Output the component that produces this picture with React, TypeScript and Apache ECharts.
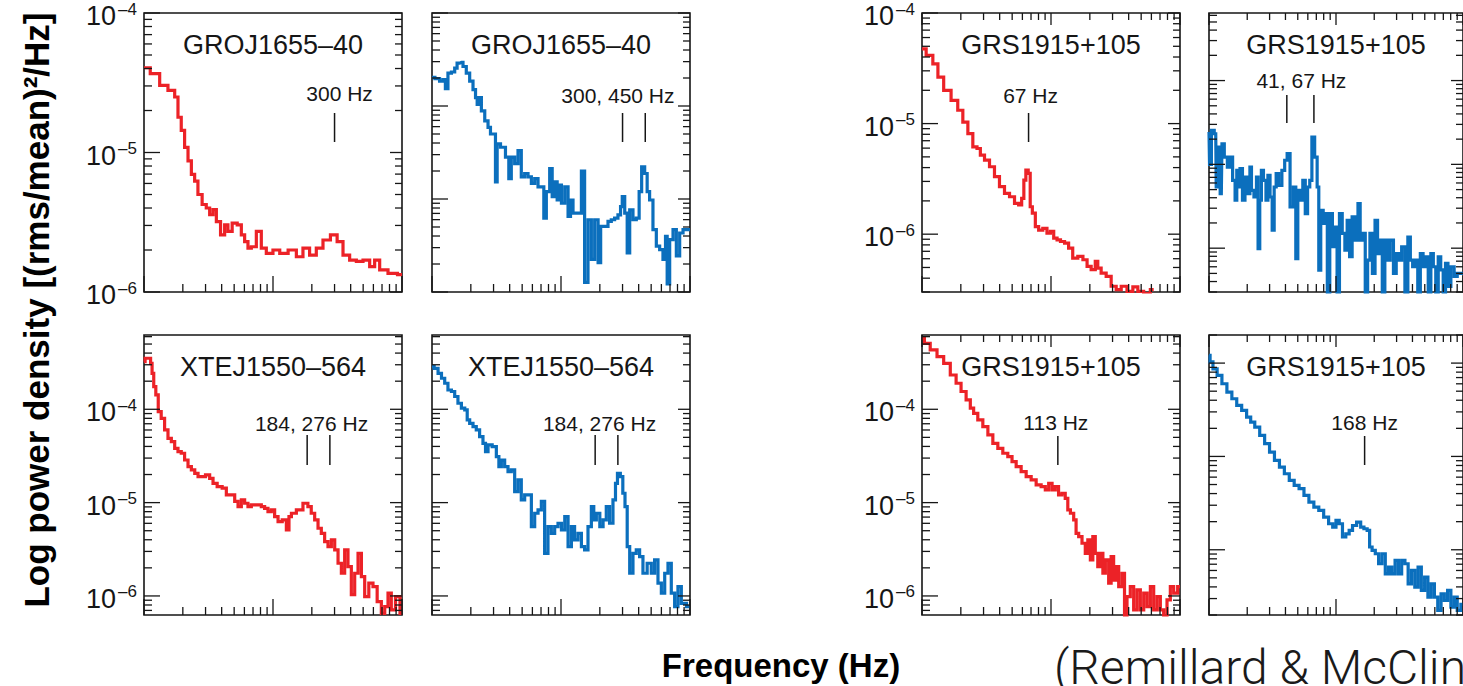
import React, { useEffect, useRef } from "react";
import * as echarts from "echarts";

// ---------------------------------------------------------------------------
// Power density spectra: frequency (Hz) and power ((rms/mean)^2/Hz)
// ---------------------------------------------------------------------------

// GRO J1655-40, observation showing the 300 Hz QPO
const groA_freq = [10, 12.5, 14.0, 16.8, 17.8, 18.9, 20.0, 21.3, 22.6, 24.0, 25.4, 27.0, 29.5, 31.3, 33.3, 35.3, 37.5, 41.0, 43.4, 46.1, 50.5, 55.2, 58.5, 62.1, 65.9, 70.0, 78.8, 83.6, 94.2, 106, 120, 143, 161, 181, 204, 230, 259, 300, 329, 370, 417, 470, 529, 596, 632, 713, 851, 1000];
const groA_power = [4.05e-5, 3.68e-5, 3.03e-5, 2.79e-5, 2.5e-5, 1.79e-5, 1.44e-5, 1.09e-5, 8.7e-6, 6.97e-6, 6.24e-6, 5.0e-6, 4.24e-6, 4.0e-6, 3.58e-6, 3.89e-6, 3.2e-6, 2.57e-6, 3.03e-6, 2.72e-6, 3.12e-6, 3.03e-6, 2.57e-6, 2.3e-6, 2.06e-6, 2.11e-6, 2.72e-6, 2.06e-6, 1.89e-6, 2.0e-6, 1.89e-6, 2.0e-6, 1.79e-6, 2.06e-6, 1.84e-6, 2.06e-6, 2.36e-6, 2.57e-6, 2.3e-6, 1.84e-6, 1.69e-6, 1.66e-6, 1.69e-6, 1.52e-6, 1.69e-6, 1.44e-6, 1.36e-6, 1.33e-6];

// GRO J1655-40, observation showing the 300 and 450 Hz QPOs
const groB_freq = [10, 11.1, 11.8, 12.5, 12.9, 13.7, 14.6, 15.4, 15.9, 16.9, 17.9, 19.0, 20.2, 21.4, 22.1, 22.7, 23.4, 24.9, 26.4, 28.0, 28.8, 30.6, 31.5, 32.5, 35.5, 38.8, 40.0, 42.4, 45.1, 47.8, 50.7, 53.9, 57.2, 60.7, 64.4, 68.4, 72.5, 74.7, 79.3, 84.2, 86.7, 92.0, 94.8, 97.7, 104, 110, 117, 120, 128, 140, 148, 157, 167, 177, 188, 200, 206, 225, 238, 253, 268, 285, 294, 303, 321, 331, 351, 372, 395, 412, 432, 459, 472, 501, 532, 565, 599, 636, 656, 675, 717, 761, 807, 857, 910, 1000];
const groB_power = [2.03e-5, 1.97e-5, 1.85e-5, 1.92e-5, 1.54e-5, 2.26e-5, 2.32e-5, 2.56e-5, 2.89e-5, 2.94e-5, 2.66e-5, 2.26e-5, 1.85e-5, 1.5e-5, 1.23e-5, 1.04e-5, 1.23e-5, 8.85e-6, 6.92e-6, 5.88e-6, 5.0e-6, 5.0e-6, 1.53e-6, 3.91e-6, 3.6e-6, 2.82e-6, 1.66e-6, 2.82e-6, 2.4e-6, 3.32e-6, 1.73e-6, 1.88e-6, 1.73e-6, 1.47e-6, 1.66e-6, 1.35e-6, 1.35e-6, 6.22e-7, 1.2e-6, 2.12e-6, 1.06e-6, 1.53e-6, 9.76e-7, 1.41e-6, 9.0e-7, 1.35e-6, 6.49e-7, 9.76e-7, 7.05e-7, 7.05e-7, 2.0e-6, 1.27e-7, 5.98e-7, 2.24e-7, 5.98e-7, 2.07e-7, 5.08e-7, 5.08e-7, 5.74e-7, 5.98e-7, 6.22e-7, 6.76e-7, 8.28e-7, 1.06e-6, 7.05e-7, 2.64e-7, 7.64e-7, 5.98e-7, 6.22e-7, 1.2e-6, 2.21e-6, 1.88e-6, 1.2e-6, 9.76e-7, 4.68e-7, 3.11e-7, 2.86e-7, 2.24e-7, 3.97e-7, 1.22e-7, 3.66e-7, 4.68e-7, 2.44e-7, 4.31e-7, 4.68e-7, 4.68e-7];

// GRS 1915+105, 67 Hz QPO
const grsA_freq = [10, 11.6, 12.7, 13.9, 15.6, 18.1, 19.8, 21.7, 23.7, 25.9, 27.5, 29.2, 31.9, 34.9, 38.1, 41.7, 45.6, 49.9, 54.5, 57.8, 60.7, 62.5, 65.2, 68.0, 70.0, 73.4, 77.9, 82.6, 90.3, 95.9, 102, 108, 115, 122, 133, 141, 154, 169, 185, 196, 214, 227, 234, 256, 280, 306, 335, 366, 412, 451, 492, 555, 625];
const grsA_power = [4.74e-5, 4.13e-5, 3.47e-5, 2.63e-5, 2.0e-5, 1.62e-5, 1.32e-5, 1.03e-5, 8.13e-6, 6.16e-6, 5.95e-6, 5.19e-6, 4.67e-6, 4.07e-6, 3.31e-6, 2.69e-6, 2.34e-6, 2.18e-6, 1.9e-6, 1.84e-6, 2.11e-6, 3.08e-6, 3.8e-6, 3.55e-6, 1.77e-6, 1.55e-6, 1.17e-6, 1.09e-6, 1.13e-6, 1.02e-6, 1.06e-6, 9.2e-7, 8.89e-7, 8.59e-7, 8.3e-7, 7.48e-7, 6.08e-7, 6.3e-7, 5.87e-7, 5.12e-7, 4.78e-7, 5.67e-7, 4.94e-7, 4.45e-7, 4.16e-7, 3.38e-7, 3.15e-7, 3.38e-7, 3.04e-7, 3.34e-7, 3.04e-7, 2.9e-7, 3.15e-7];

// GRS 1915+105, 41 and 67 Hz QPOs
const grsB_freq = [10, 10.2, 10.7, 11.3, 11.5, 12.0, 12.5, 12.8, 13.6, 14.3, 14.9, 15.8, 16.3, 16.8, 17.3, 17.8, 18.9, 19.5, 20.7, 21.3, 21.9, 23.3, 24.0, 24.7, 25.5, 26.2, 27.5, 28.7, 29.5, 31.0, 31.9, 33.3, 34.3, 36.4, 38.6, 40.3, 42.2, 44.8, 47.5, 49.0, 51.1, 53.5, 56.1, 58.5, 61.0, 63.3, 65.9, 70.0, 72.1, 74.3, 77.4, 81.2, 83.7, 87.2, 91.5, 95.9, 100, 104, 109, 115, 120, 125, 131, 137, 146, 152, 158, 166, 174, 181, 189, 198, 208, 217, 226, 237, 248, 259, 275, 292, 304, 319, 339, 359, 377, 393, 410, 430, 451, 472, 498, 520, 545, 572, 596, 625, 652, 684, 713, 744, 779, 827, 877, 925, 1000];
const grsB_power = [2.43e-6, 1.0e-6, 2.54e-6, 2.32e-6, 5.37e-7, 1.61e-6, 4.48e-7, 1.76e-6, 1.22e-6, 9.29e-7, 1.22e-6, 6.45e-7, 3.73e-7, 8.49e-7, 5.37e-7, 8.88e-7, 3.73e-7, 7.07e-7, 4.48e-7, 9.29e-7, 4.9e-7, 4.08e-7, 7.07e-7, 9.9e-8, 3.73e-7, 8.49e-7, 6.45e-7, 3.73e-7, 7.4e-7, 4.08e-7, 1.64e-7, 5.37e-7, 7.74e-7, 5.62e-7, 8.49e-7, 1.12e-6, 1.34e-6, 3.1e-7, 5.37e-7, 7.5e-8, 4.9e-7, 3.73e-7, 6.45e-7, 2.59e-7, 5.37e-7, 6.45e-7, 2.11e-6, 1.22e-6, 5.37e-7, 5.47e-8, 2.83e-7, 1.97e-7, 2.59e-7, 2.5e-8, 2.59e-7, 1.04e-7, 1.79e-7, 2.5e-8, 2.59e-7, 1.5e-7, 9.47e-8, 2.15e-7, 7.9e-8, 2.36e-7, 1.25e-7, 3.4e-7, 1.25e-7, 1.5e-7, 2.5e-8, 7.2e-8, 1.5e-7, 5.0e-8, 2.15e-7, 8.6e-8, 1.25e-7, 2.5e-8, 1.25e-7, 7.2e-8, 1.25e-7, 5.0e-8, 8.6e-8, 7.2e-8, 1.04e-7, 2.5e-8, 1.36e-7, 7.2e-8, 6.0e-8, 7.2e-8, 2.5e-8, 8.6e-8, 6.0e-8, 7.9e-8, 2.5e-8, 8.6e-8, 6.0e-8, 2.5e-8, 7.9e-8, 5.5e-8, 2.5e-8, 6.6e-8, 3.5e-8, 6.0e-8, 4.6e-8, 5.0e-8, 5.0e-8];

// XTE J1550-564, 184 and 276 Hz QPOs (red)
const xteA_freq = [10, 10.4, 11.1, 11.4, 11.7, 12.1, 12.6, 13.2, 14.0, 14.9, 15.8, 16.8, 17.8, 18.9, 20.0, 21.3, 22.6, 24.0, 25.5, 27.0, 28.7, 31.3, 33.3, 35.3, 38.6, 42.2, 44.8, 49.0, 52.0, 55.2, 58.5, 62.1, 65.9, 70.0, 78.8, 83.6, 88.7, 94.2, 100, 106, 113, 123, 131, 135, 143, 161, 181, 192, 204, 217, 230, 244, 259, 275, 292, 310, 329, 349, 370, 393, 417, 443, 470, 499, 529, 578, 614, 671, 713, 757, 802, 851, 931, 1000];
const xteA_power = [3.24e-4, 3.52e-4, 3.52e-4, 3.11e-4, 2.43e-4, 1.75e-4, 1.43e-4, 9.44e-5, 8.01e-5, 6.01e-5, 4.89e-5, 4.51e-5, 3.82e-5, 3.52e-5, 3.38e-5, 2.86e-5, 2.43e-5, 2.24e-5, 2.06e-5, 1.9e-5, 1.9e-5, 1.98e-5, 1.82e-5, 1.61e-5, 1.48e-5, 1.43e-5, 1.21e-5, 1.21e-5, 1.03e-5, 9.06e-6, 1.07e-5, 9.84e-6, 9.06e-6, 9.44e-6, 9.44e-6, 9.06e-6, 8.69e-6, 8.01e-6, 8.34e-6, 7.08e-6, 6.25e-6, 6.52e-6, 5.09e-6, 7.08e-6, 7.69e-6, 8.34e-6, 9.84e-6, 9.06e-6, 7.69e-6, 6.52e-6, 5.31e-6, 4.69e-6, 3.82e-6, 3.38e-6, 3.98e-6, 3.11e-6, 2.24e-6, 1.75e-6, 3.11e-6, 2.06e-6, 1.03e-6, 1.75e-6, 2.86e-6, 1.61e-6, 9.84e-7, 1.37e-6, 1.26e-6, 8.69e-7, 6.52e-7, 7.69e-7, 1.07e-6, 7.08e-7, 9.84e-7, 6.52e-7];

// XTE J1550-564, 184 and 276 Hz QPOs (blue)
const xteB_freq = [10, 10.8, 11.5, 12.2, 12.9, 13.7, 14.6, 15.4, 16.4, 17.4, 18.5, 19.0, 20.2, 21.4, 22.7, 24.1, 25.6, 26.4, 28.0, 30.6, 32.5, 33.5, 35.5, 37.7, 40.0, 42.4, 45.1, 47.8, 50.7, 53.9, 57.2, 60.7, 64.4, 68.4, 72.5, 76.9, 81.7, 86.7, 92.0, 97.7, 104, 110, 117, 124, 131, 140, 148, 157, 167, 177, 182, 194, 206, 218, 231, 245, 261, 268, 280, 297, 306, 321, 331, 351, 372, 395, 419, 445, 487, 516, 548, 582, 618, 656, 695, 738, 783, 831, 883, 1000];
const xteB_power = [2.86e-4, 2.75e-4, 2.43e-4, 2.15e-4, 1.9e-4, 1.61e-4, 1.55e-4, 1.37e-4, 1.16e-4, 1.03e-4, 9.84e-5, 7.69e-5, 7.08e-5, 6.52e-5, 6.01e-5, 5.09e-5, 4.32e-5, 3.52e-5, 4.15e-5, 3.98e-5, 3.11e-5, 2.43e-5, 2.86e-5, 2.43e-5, 2.15e-5, 2.24e-5, 1.31e-5, 1.75e-5, 1.07e-5, 1.21e-5, 1.21e-5, 5.53e-6, 7.69e-6, 8.34e-6, 1.03e-5, 2.86e-6, 5.53e-6, 4.69e-6, 5.53e-6, 6.01e-6, 5.09e-6, 7.08e-6, 3.38e-6, 5.53e-6, 3.98e-6, 4.69e-6, 3.38e-6, 3.11e-6, 5.53e-6, 9.06e-6, 6.52e-6, 7.69e-6, 5.53e-6, 6.52e-6, 9.06e-6, 6.01e-6, 1.07e-5, 1.61e-5, 2.06e-5, 1.9e-5, 1.26e-5, 9.06e-6, 3.38e-6, 1.75e-6, 2.86e-6, 3.11e-6, 2.64e-6, 1.75e-6, 2.24e-6, 1.75e-6, 2.43e-6, 1.37e-6, 1.07e-6, 1.75e-6, 2.24e-6, 1.07e-6, 7.69e-7, 1.26e-6, 8.34e-7, 7.69e-7];

// GRS 1915+105, 113 Hz QPO
const grsC_freq = [10, 10.9, 12.3, 13.9, 15.6, 17.6, 19.2, 21.0, 23.0, 24.4, 25.9, 28.3, 31.0, 33.9, 37.0, 40.5, 44.2, 48.4, 51.4, 56.1, 61.4, 67.1, 73.4, 80.2, 87.7, 93.1, 98.9, 105, 111, 118, 125, 133, 137, 146, 154, 159, 169, 179, 190, 196, 208, 214, 227, 234, 249, 256, 272, 288, 297, 315, 325, 345, 366, 377, 400, 424, 451, 478, 508, 539, 572, 607, 644, 684, 725, 770, 817, 867, 920, 1000];
const grsC_power = [5.77e-4, 5.09e-4, 4.32e-4, 3.66e-4, 3.11e-4, 2.33e-4, 1.9e-4, 1.55e-4, 1.26e-4, 1.03e-4, 9.06e-5, 7.69e-5, 6.52e-5, 5.31e-5, 4.32e-5, 3.82e-5, 3.38e-5, 3.11e-5, 2.75e-5, 2.43e-5, 2.15e-5, 1.9e-5, 1.75e-5, 1.55e-5, 1.48e-5, 1.37e-5, 1.61e-5, 1.37e-5, 1.48e-5, 1.21e-5, 1.26e-5, 1.11e-5, 8.34e-6, 7.69e-6, 6.52e-6, 4.69e-6, 4.32e-6, 3.67e-6, 2.86e-6, 3.98e-6, 2.43e-6, 4.32e-6, 2.86e-6, 2.06e-6, 2.86e-6, 1.75e-6, 2.43e-6, 1.37e-6, 2.64e-6, 1.48e-6, 2.06e-6, 1.26e-6, 1.75e-6, 6.0e-7, 9.84e-7, 1.26e-6, 7.08e-7, 1.16e-6, 7.08e-7, 1.07e-6, 7.69e-7, 1.26e-6, 7.08e-7, 9.84e-7, 7.08e-7, 6.0e-7, 9.06e-7, 1.26e-6, 1.07e-6, 1.26e-6];

// GRS 1915+105, 168 Hz QPO
const grsD_freq = [10, 10.4, 11.1, 12.1, 13.2, 14.5, 15.8, 17.3, 18.9, 20.7, 21.9, 24.0, 26.2, 28.7, 31.3, 34.3, 37.5, 41.0, 44.8, 49.0, 53.5, 58.5, 64.0, 70.0, 76.5, 83.6, 91.5, 97.0, 103, 109, 116, 123, 131, 139, 152, 161, 171, 181, 187, 198, 210, 223, 237, 252, 267, 283, 301, 319, 339, 359, 381, 405, 430, 456, 484, 514, 545, 578, 614, 652, 692, 734, 779, 827, 877, 925, 1000];
const grsD_power = [1.21e-4, 1.03e-4, 8.69e-5, 7.38e-5, 6.01e-5, 4.89e-5, 4.15e-5, 3.52e-5, 3.11e-5, 2.64e-5, 2.33e-5, 2.06e-5, 1.68e-5, 1.37e-5, 1.11e-5, 9.06e-6, 7.69e-6, 6.52e-6, 5.53e-6, 4.89e-6, 4.51e-6, 3.82e-6, 3.24e-6, 2.86e-6, 2.64e-6, 2.24e-6, 1.9e-6, 1.75e-6, 2.06e-6, 1.9e-6, 1.37e-6, 1.48e-6, 1.61e-6, 1.82e-6, 1.98e-6, 1.75e-6, 1.68e-6, 1.61e-6, 1.07e-6, 9.84e-7, 9.06e-7, 7.08e-7, 9.06e-7, 5.53e-7, 6.52e-7, 5.53e-7, 7.69e-7, 5.53e-7, 7.69e-7, 7.08e-7, 4.32e-7, 6.01e-7, 3.98e-7, 6.52e-7, 3.67e-7, 5.09e-7, 3.11e-7, 4.32e-7, 3.11e-7, 2.24e-7, 3.38e-7, 2.86e-7, 3.67e-7, 2.43e-7, 3.11e-7, 2.24e-7, 2.6e-7];

// Panel titles, QPO markers and power-axis limits
const titles = ["GROJ1655–40", "GROJ1655–40", "GRS1915+105", "GRS1915+105", "XTEJ1550–564", "XTEJ1550–564", "GRS1915+105", "GRS1915+105"];
const qpoFreqs = [[300], [300, 450], [67], [41, 67], [184, 276], [184, 276], [113], [168]];
const qpoLabels = ["300 Hz", "300, 450 Hz", "67 Hz", "41, 67 Hz", "184, 276 Hz", "184, 276 Hz", "113 Hz", "168 Hz"];
const powerMin = [1e-6, 1e-7, 3.0e-7, 3.0e-8, 6.25e-7, 6.25e-7, 6.25e-7, 2.0e-7];
const powerMax = [1e-4, 1e-4, 1e-4, 6.4e-5, 6.25e-4, 6.25e-4, 6.25e-4, 2.0e-4];
const FREQ_MIN = 10;
const FREQ_MAX = 1000;

const RED = "#EC2227";
const BLUE = "#0B6FBD";
const INK = "#161616";
const FONT = '"Liberation Sans", Arial, Helvetica, sans-serif';

const spectra = [
  { freq: groA_freq, power: groA_power, color: RED },
  { freq: groB_freq, power: groB_power, color: BLUE },
  { freq: grsA_freq, power: grsA_power, color: RED },
  { freq: grsB_freq, power: grsB_power, color: BLUE },
  { freq: xteA_freq, power: xteA_power, color: RED },
  { freq: xteB_freq, power: xteB_power, color: BLUE },
  { freq: grsC_freq, power: grsC_power, color: RED },
  { freq: grsD_freq, power: grsD_power, color: BLUE },
];

// Layout of the eight frames (pixels) and per-frame decoration choices
const frameLeft = [144, 432, 922, 1209, 144, 432, 922, 1209];
const frameTop = [13, 13, 13, 13, 335, 335, 335, 335];
const FRAME_W = 258;
const frameH = [279, 279, 279, 279, 280, 280, 280, 280];
const showPowerLabels = [true, false, true, false, true, false, true, false];
const showTopTicks = [false, false, true, true, false, false, true, true];
// label offset, text row and marker span (pixels below the frame top)
const qpoLayout = [
  { dx: 5, textY: 80, y0: 100, y1: 129 },
  { dx: -16, textY: 82, y0: 100, y1: 129 },
  { dx: 2, textY: 82, y0: 100, y1: 129 },
  { dx: 1, textY: 67, y0: 82, y1: 110 },
  { dx: -7, textY: 88, y0: 100, y1: 130 },
  { dx: -7, textY: 88, y0: 100, y1: 130 },
  { dx: -2, textY: 87, y0: 101, y1: 130 },
  { dx: 0, textY: 87, y0: 101, y1: 130 },
];

// Positions of 1..9 x 10^k ticks inside [min, max]
function logTicks(min: number, max: number) {
  const out: { v: number; major: boolean }[] = [];
  const k0 = Math.floor(Math.log10(min));
  const k1 = Math.ceil(Math.log10(max));
  for (let k = k0; k <= k1; k++) {
    for (let m = 1; m <= 9; m++) {
      const v = m * Math.pow(10, k);
      if (v >= min * 0.999 && v <= max * 1.001) out.push({ v, major: m === 1 });
    }
  }
  return out;
}

function textEl(x: number, y: number, text: string, size: number, align: string, vAlign = "middle", weight = "normal") {
  return {
    type: "text",
    x,
    y,
    style: {
      text,
      fill: INK,
      font: `${weight} ${size}px ${FONT}`,
      textAlign: align,
      align,
      textVerticalAlign: vAlign,
      verticalAlign: vAlign,
    },
  };
}

// Ticks, power labels, title and QPO markers of one frame
function makeFrameRenderer(i: number) {
  const yMin = powerMin[i];
  const yMax = powerMax[i];
  const lay = qpoLayout[i];
  return (_params: any, api: any) => {
    const [xL, yT] = api.coord([FREQ_MIN, yMax]);
    const [xR, yB] = api.coord([FREQ_MAX, yMin]);
    const children: any[] = [];
    const seg = (x1: number, y1: number, x2: number, y2: number, w = 1.3) =>
      children.push({ type: "line", shape: { x1, y1, x2, y2 }, style: { stroke: INK, lineWidth: w } });

    for (const t of logTicks(FREQ_MIN, FREQ_MAX)) {
      const x = api.coord([t.v, yMin])[0];
      seg(x, yB, x, yB - (t.major ? 16 : 8));
      if (showTopTicks[i]) seg(x, yT, x, yT + (t.major ? 12 : 7));
    }
    for (const t of logTicks(yMin, yMax)) {
      const y = api.coord([FREQ_MIN, t.v])[1];
      seg(xL, y, xL + (t.major ? 16 : 8), y);
      seg(xR, y, xR - (t.major ? 12 : 7), y);
      if (showPowerLabels[i] && t.major) {
        const exp = Math.round(Math.log10(t.v));
        const expText = (exp < 0 ? "\u2013" : "") + Math.abs(exp);
        children.push(textEl(xL - 28, y + 3, "10", 27, "right"));
        children.push(textEl(xL - 26, y - 4, expText, 17, "left"));
      }
    }

    children.push(textEl((xL + xR) / 2, yT + 32, titles[i], 27, "center"));

    const xs = qpoFreqs[i].map((f) => api.coord([f, yMin])[0]);
    xs.forEach((x) => seg(x, yT + lay.y0, x, yT + lay.y1, 1.5));
    const xMid = xs.reduce((a, b) => a + b, 0) / xs.length;
    children.push(textEl(xMid + lay.dx, yT + lay.textY, qpoLabels[i], 21, "center"));

    return { type: "group", children };
  };
}

function buildOption() {
  const grid: any[] = [];
  const xAxis: any[] = [];
  const yAxis: any[] = [];
  const series: any[] = [];
  const hidden = {
    axisLine: { show: false },
    axisTick: { show: false },
    axisLabel: { show: false },
    splitLine: { show: false },
  };
  for (let i = 0; i < 8; i++) {
    grid.push({
      left: frameLeft[i],
      top: frameTop[i],
      width: FRAME_W,
      height: frameH[i],
      show: true,
      borderColor: INK,
      borderWidth: 1.6,
      backgroundColor: "transparent",
      containLabel: false,
    });
    xAxis.push({ type: "log", logBase: 10, min: FREQ_MIN, max: FREQ_MAX, gridIndex: i, ...hidden });
    yAxis.push({ type: "log", logBase: 10, min: powerMin[i], max: powerMax[i], gridIndex: i, ...hidden });
    const s = spectra[i];
    series.push({
      type: "line",
      xAxisIndex: i,
      yAxisIndex: i,
      data: s.freq.map((f, j) => [f, s.power[j]]),
      step: "middle",
      symbol: "none",
      clip: true,
      silent: true,
      lineStyle: { color: s.color, width: 3.2, join: "miter", cap: "butt" },
      z: 3,
    });
    series.push({
      type: "custom",
      xAxisIndex: i,
      yAxisIndex: i,
      data: [[100, powerMin[i] * 2]],
      renderItem: makeFrameRenderer(i),
      clip: false,
      silent: true,
      z: 4,
    });
  }

  const graphic = [
    {
      type: "text",
      x: 36,
      y: 310,
      rotation: Math.PI / 2,
      style: {
        text: "Log power density [(rms/mean)\u00B2/Hz]",
        fill: "#000",
        font: `bold 35px ${FONT}`,
        textAlign: "center",
        align: "center",
        textVerticalAlign: "middle",
        verticalAlign: "middle",
      },
    },
    {
      type: "text",
      x: 781,
      y: 665,
      style: {
        text: "Frequency (Hz)",
        fill: "#000",
        font: `bold 33px ${FONT}`,
        textAlign: "center",
        align: "center",
        textVerticalAlign: "middle",
        verticalAlign: "middle",
      },
    },
    {
      type: "text",
      x: 1054,
      y: 667,
      style: {
        text: "(Remillard & McClintock 2006)",
        fill: "#1a1a1a",
        font: `300 48px Roboto, ${FONT}`,
        textAlign: "left",
        align: "left",
        textVerticalAlign: "middle",
        verticalAlign: "middle",
      },
    },
  ];

  return {
    animation: false,
    backgroundColor: "#ffffff",
    grid,
    xAxis,
    yAxis,
    series,
    graphic,
  };
}

export default function App() {
  const ref = useRef<HTMLDivElement | null>(null);
  useEffect(() => {
    if (!ref.current) return;
    const chart = echarts.init(ref.current, undefined, { renderer: "svg" });
    chart.setOption(buildOption() as any);
    return () => chart.dispose();
  }, []);
  return (
    <div
      ref={ref}
      style={{ position: "fixed", left: 0, top: 0, width: 1463, height: 686, background: "#fff" }}
    />
  );
}
